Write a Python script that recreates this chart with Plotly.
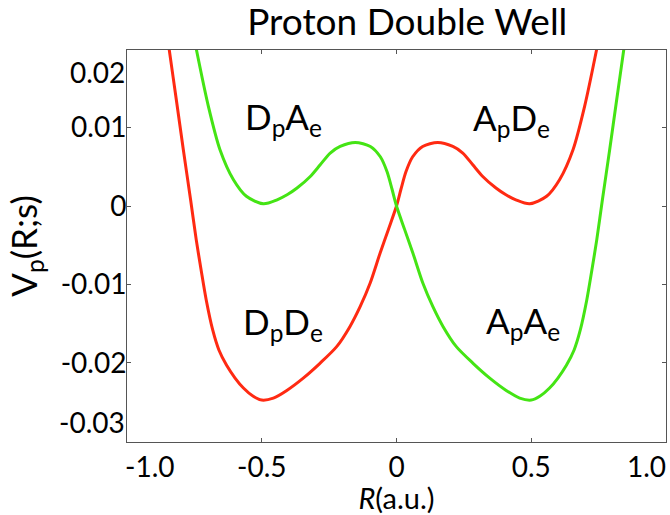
import plotly.graph_objects as go

# Red curve (D_pD_e -> A_pD_e)
red_R = [-0.855, -0.843, -0.817, -0.791, -0.764, -0.743, -0.725, -0.706, -0.682, -0.659,
         -0.631, -0.599, -0.568, -0.533, -0.500, -0.457, -0.407, -0.346, -0.284, -0.222,
         -0.173, -0.135, -0.098, -0.061, -0.030, 0.000, 0.017, 0.035, 0.060, 0.097,
         0.153, 0.209, 0.246, 0.283, 0.320, 0.369, 0.406, 0.443, 0.494, 0.557,
         0.605, 0.655, 0.698, 0.742, 0.759]
red_V = [0.0229, 0.01986, 0.01356, 0.00718, 0.00079, -0.00432, -0.00815, -0.01198, -0.01581, -0.01836,
         -0.02028, -0.02194, -0.02322, -0.02424, -0.02475, -0.02450, -0.02352, -0.02195, -0.02006, -0.01794,
         -0.01539, -0.01284, -0.00985, -0.00602, -0.00298, 0.0, 0.00220, 0.00437, 0.00628, 0.00760,
         0.00811, 0.00760, 0.00676, 0.00526, 0.00377, 0.00229, 0.00143, 0.00079, 0.00028, 0.00124,
         0.00335, 0.00718, 0.01271, 0.01986, 0.0229]

# Green curve (D_pA_e -> A_pA_e)
green_R = [-0.759, -0.742, -0.698, -0.655, -0.605, -0.557, -0.494, -0.443, -0.406, -0.369,
           -0.320, -0.283, -0.246, -0.209, -0.153, -0.097, -0.060, -0.035, -0.017, 0.000,
           0.030, 0.061, 0.098, 0.135, 0.173, 0.222, 0.284, 0.346, 0.407, 0.457,
           0.500, 0.533, 0.568, 0.599, 0.631, 0.659, 0.682, 0.706, 0.725, 0.743,
           0.764, 0.791, 0.817, 0.843, 0.855]
green_V = [0.0229, 0.01986, 0.01271, 0.00718, 0.00335, 0.00124, 0.00028, 0.00079, 0.00143, 0.00229,
           0.00377, 0.00526, 0.00676, 0.00760, 0.00811, 0.00760, 0.00628, 0.00437, 0.00220, 0.0,
           -0.00298, -0.00602, -0.00985, -0.01284, -0.01539, -0.01794, -0.02006, -0.02195, -0.02352, -0.02450,
           -0.02475, -0.02424, -0.02322, -0.02194, -0.02028, -0.01836, -0.01581, -0.01198, -0.00815, -0.00432,
           0.00079, 0.00718, 0.01356, 0.01986, 0.0229]

x_tickvals = [-0.5, 0, 0.5]
x_ticktext = ["-0.5", "0", "0.5"]
x_end_labels = ["-1.0", "1.0"]
y_tickvals = [-0.02, -0.01, 0, 0.01]
y_ticktext = ["-0.02", "-0.01", "0", "0.01"]
y_end_labels = ["0.02", "-0.03"]

state_labels = ["D<sub>p</sub>A<sub>e</sub>", "A<sub>p</sub>D<sub>e</sub>",
                "D<sub>p</sub>D<sub>e</sub>", "A<sub>p</sub>A<sub>e</sub>"]
state_R = [-0.420, 0.427, -0.421, 0.468]
state_V = [0.0112, 0.0110, -0.0150, -0.0149]

FONT = "Lato"
TICK = 28
XR = [-1.0, 1.0]
YR = [-0.0301, 0.0199]

fig = go.Figure()
fig.add_trace(go.Scatter(x=red_R, y=red_V, mode="lines",
                         line=dict(color="#ff2a12", width=3, shape="spline", smoothing=0.8),
                         showlegend=False))
fig.add_trace(go.Scatter(x=green_R, y=green_V, mode="lines",
                         line=dict(color="#44e414", width=3, shape="spline", smoothing=0.8),
                         showlegend=False))

ann = []
for t, r, v in zip(state_labels, state_R, state_V):
    ann.append(dict(x=r, y=v, xref="x", yref="y", text=t, showarrow=False,
                    font=dict(family=FONT, size=35, color="black")))
# end tick labels shifted inside, as in reference
ann.append(dict(x=XR[0], y=0, xref="x", yref="paper", text=x_end_labels[0], showarrow=False,
                xanchor="left", yanchor="top", yshift=-5, xshift=-4,
                font=dict(family=FONT, size=TICK, color="black")))
ann.append(dict(x=XR[1], y=0, xref="x", yref="paper", text=x_end_labels[1], showarrow=False,
                xanchor="right", yanchor="top", yshift=-5, xshift=2,
                font=dict(family=FONT, size=TICK, color="black")))
ann.append(dict(x=0, y=YR[1], xref="paper", yref="y", text=y_end_labels[0], showarrow=False,
                xanchor="right", yanchor="top", xshift=0, yshift=-3,
                font=dict(family=FONT, size=TICK, color="black")))
ann.append(dict(x=0, y=YR[0], xref="paper", yref="y", text=y_end_labels[1], showarrow=False,
                xanchor="right", yanchor="bottom", xshift=0, yshift=1,
                font=dict(family=FONT, size=TICK, color="black")))

axis_common = dict(showgrid=False, zeroline=False, showline=True, linecolor="#555555",
                   linewidth=1, mirror="ticks", ticks="inside", ticklen=4, tickcolor="#555555",
                   automargin=False,
                   tickfont=dict(family=FONT, size=TICK, color="black"))

fig.update_layout(
    width=670, height=515,
    margin=dict(l=127, r=4, t=50, b=73),
    paper_bgcolor="white", plot_bgcolor="white",
    title=dict(text="Proton Double Well", x=0.52, xref="paper", xanchor="center",
               y=0.982, yanchor="top",
               font=dict(family=FONT, size=37, color="black")),
    xaxis=dict(range=XR, tickvals=x_tickvals, ticktext=x_ticktext,
               title=dict(text="<i>R</i>(a.u.)", standoff=3,
                          font=dict(family=FONT, size=29, color="black")),
               **axis_common),
    yaxis=dict(range=YR, tickvals=y_tickvals, ticktext=y_ticktext,
               ticklabelstandoff=-6,
               title=dict(text="V<sub>p</sub>(R;s)", standoff=12,
                          font=dict(family=FONT, size=35, color="black")),
               **axis_common),
    annotations=ann,
)

# remove the page's default body margin so the 670x515 figure fills the window exactly
fig.write_html("out.html", config={"displayModeBar": False},
               post_script="document.body.style.margin='0px';")
